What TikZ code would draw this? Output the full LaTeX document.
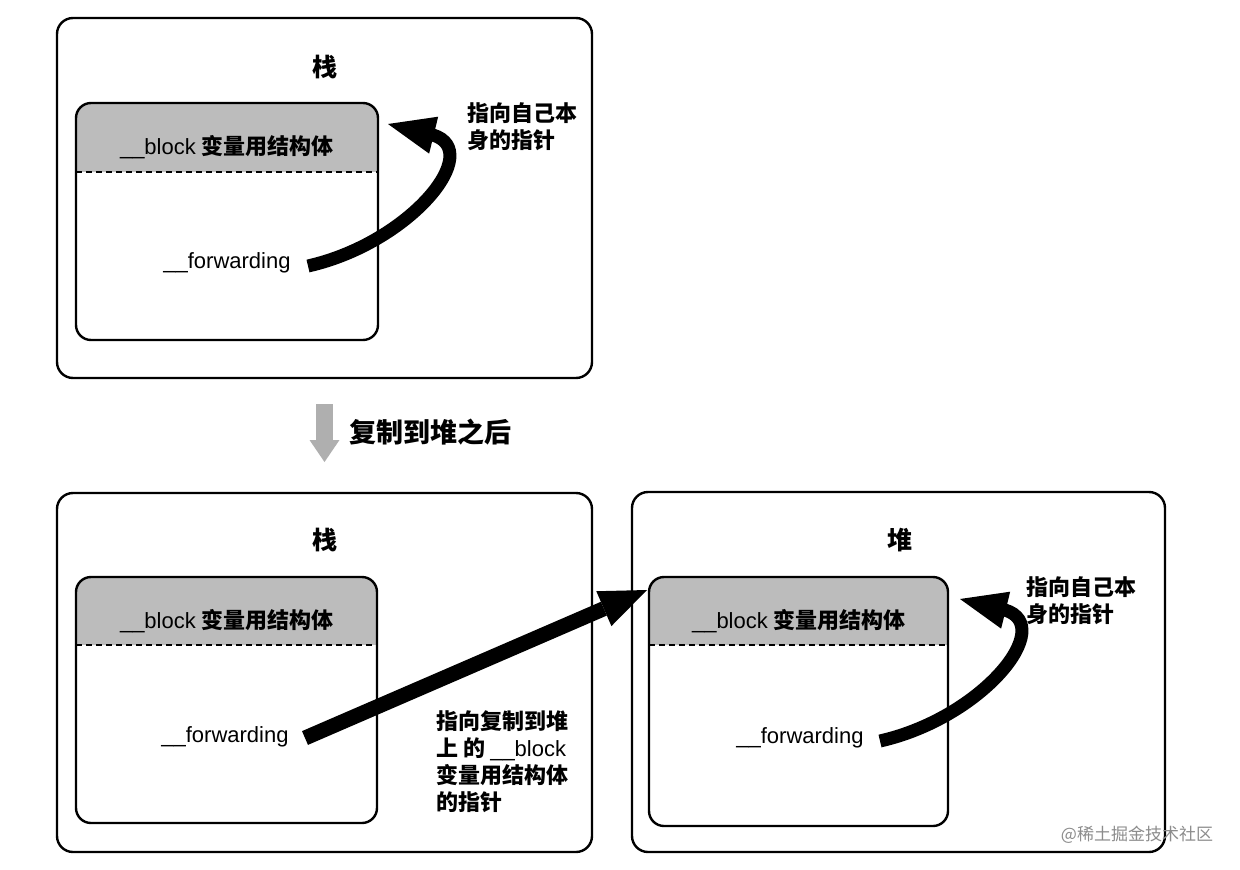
\documentclass[tikz,border=0pt]{standalone}
\usepackage{fontspec}
\setmainfont{Liberation Sans}
\newfontfamily\cjk{Noto Sans CJK SC}
\usetikzlibrary{arrows.meta}
\definecolor{hdrgray}{RGB}{188,188,188}
\definecolor{arrgray}{RGB}{175,175,175}
\definecolor{wmgray}{RGB}{140,140,140}
\tikzset{
  outerbox/.style={draw=black, line width=2.4pt, rounded corners=16pt},
  innerbox/.style={draw=black, line width=2.4pt, rounded corners=15pt},
  dashline/.style={draw=black, line width=1.3pt, dash pattern=on 6pt off 4pt},
  txt/.style={font=\fontsize{22}{27}\selectfont, inner sep=0pt},
  ttl/.style={font=\fontsize{25}{30}\selectfont\cjk\bfseries, inner sep=0pt},
  note/.style={font=\fontsize{22}{27}\selectfont\cjk\bfseries, align=left, inner sep=0pt, anchor=west},
  bigarr/.style={draw=black, line width=13pt, -{Triangle[length=47pt,width=38pt,line width=0pt]}},
}
\begin{document}
\begin{tikzpicture}[x=1pt,y=-1pt]
\useasboundingbox (0,0) rectangle (1240,870);
\fill[white] (0,0) rectangle (1240,870);

% ---------- top: stack ----------
\draw[outerbox] (57,18) rectangle (592,378);
\node[ttl] (t1) at (325,67) {栈};
\fill[hdrgray, rounded corners=15pt] (76,172) -- (76,103) -- (378,103) -- (378,172) -- cycle;
\fill[hdrgray] (76,150) rectangle (378,172);
\draw[dashline] (76,172) -- (378,172);
\draw[innerbox] (76,103) rectangle (378,340);
\node[txt] (h1) at (227,147) {\_\_block {\cjk\bfseries 变量用结构体}};
\node[txt] (f1) at (227,263) {\_\_forwarding};
\coordinate (a1s) at (308,266);
\coordinate (a1b) at (433,135);
\coordinate (a1t) at (388,124);
\draw[bigarr] (a1s) .. controls (410,243) and (485,151) .. (a1b) -- (a1t);
\node[note] (n1) at (467,127) {指向自己本\\身的指针};

% ---------- transition ----------
\coordinate (ga) at (324.5,404);
\coordinate (gb) at (324.5,462);
\draw[arrgray, line width=17pt, -{Triangle[length=22pt,width=30pt,line width=0pt]}] (ga) -- (gb);
\node[font=\fontsize{27}{30}\selectfont\cjk\bfseries, anchor=west, inner sep=0pt] (cp) at (349,432) {复制到堆之后};

% ---------- bottom left: stack ----------
\draw[outerbox] (57,493) rectangle (592,852);
\node[ttl] (t2) at (325,540) {栈};
\fill[hdrgray, rounded corners=15pt] (76,645) -- (76,577) -- (377,577) -- (377,645) -- cycle;
\fill[hdrgray] (76,620) rectangle (377,645);
\draw[dashline] (76,645) -- (377,645);
\draw[innerbox] (76,577) rectangle (377,823);
\node[txt] (h2) at (227,621) {\_\_block {\cjk\bfseries 变量用结构体}};
\node[txt] (f2) at (225,737) {\_\_forwarding};

% ---------- bottom right: heap ----------
\draw[outerbox] (632,492) rectangle (1165,852);
\node[ttl] (t3) at (900,540) {堆};
\fill[hdrgray, rounded corners=15pt] (649,645) -- (649,577) -- (948,577) -- (948,645) -- cycle;
\fill[hdrgray] (649,620) rectangle (948,645);
\draw[dashline] (649,645) -- (948,645);
\draw[innerbox] (649,577) rectangle (948,826);
\node[txt] (h3) at (799,621) {\_\_block {\cjk\bfseries 变量用结构体}};
\node[txt] (f3) at (800,738) {\_\_forwarding};

% straight arrow stack -> heap
\coordinate (a2s) at (305,738);
\coordinate (a2t) at (647,590);
\draw[bigarr, line width=15pt] (a2s) -- (a2t);
\node[note] (n2) at (436,762) {指向复制到堆\\上 的 {\fontspec{Liberation Sans}\mdseries \_\_block}\\变量用结构体\\的指针};

% self arrow in heap
\coordinate (a3s) at (880,741);
\coordinate (a3b) at (1005,610);
\coordinate (a3t) at (960,599);
\draw[bigarr] (a3s) .. controls (982,718) and (1057,626) .. (a3b) -- (a3t);
\node[note] (n3) at (1026,601) {指向自己本\\身的指针};

% watermark
\node[font=\fontsize{17}{20}\selectfont\cjk, text=wmgray, inner sep=0pt] (wm) at (1137,835) {@稀土掘金技术社区};
\end{tikzpicture}
\end{document}
